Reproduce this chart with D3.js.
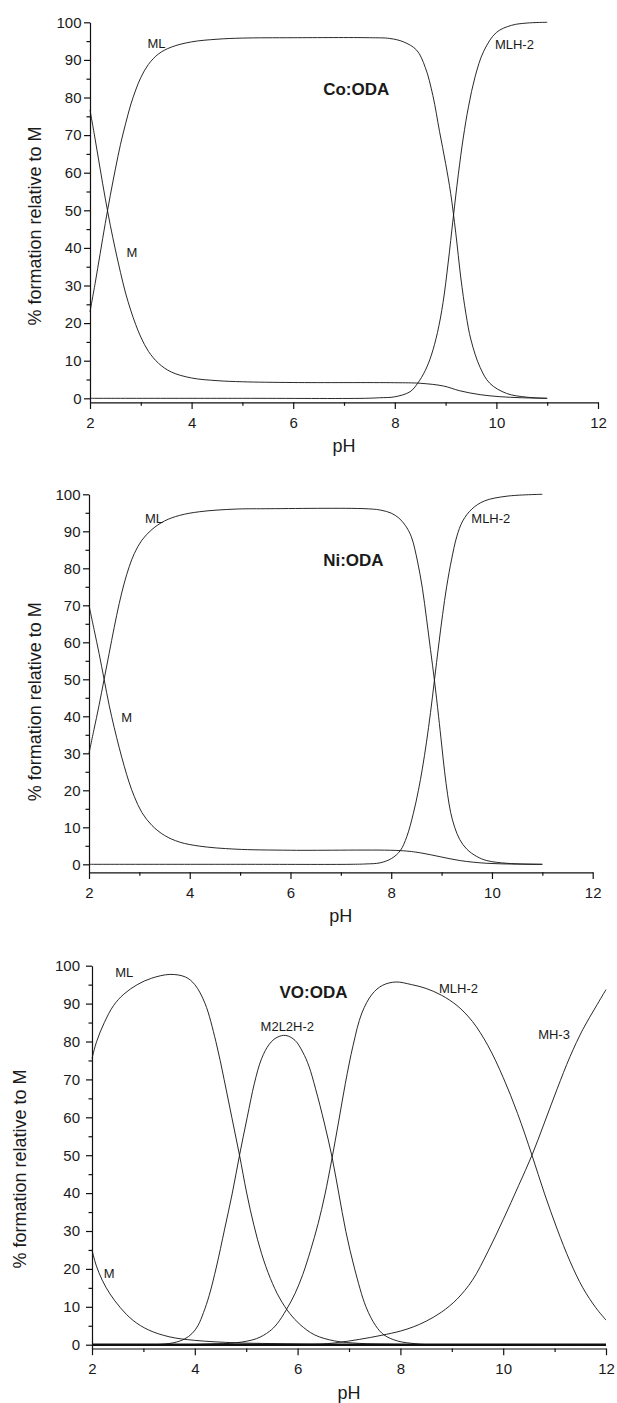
<!DOCTYPE html>
<html>
<head>
<meta charset="utf-8">
<script src="https://cdn.jsdelivr.net/npm/d3@7"></script>
<style>
  html, body { margin: 0; padding: 0; background: #fff; }
  svg { display: block; }
  text { font-family: "Liberation Sans", Arial, Helvetica, sans-serif; fill: #1a1a1a; }
</style>
</head>
<body>
<div id="chart"></div>
<script>
// [pH, % formation] pairs

// Co:ODA
const coM = [[2, 76.7], [2.1, 69], [2.2, 61], [2.3, 53.2], [2.4, 46], [2.5, 39.5], [2.6, 33.5], [2.7, 28],
  [2.8, 23.5], [2.9, 19.6], [3.0, 16.3], [3.15, 12.5], [3.35, 9.3], [3.6, 7], [4.0, 5.4], [4.5, 4.7], [5, 4.4],
  [6, 4.2], [8, 4.15], [8.5, 4.0], [8.96, 3.27], [9.28, 2.0], [9.68, 0.97], [10.07, 0.43], [10.5, 0.15], [11, 0]];
const coML = [[2, 23], [2.1, 30.5], [2.2, 38.5], [2.3, 46.5], [2.4, 54], [2.5, 61], [2.6, 67.5], [2.7, 73],
  [2.8, 78], [2.9, 82], [3.0, 85.3], [3.15, 88.8], [3.35, 91.6], [3.6, 93.4], [4.0, 94.8], [4.5, 95.5], [5, 95.8],
  [6, 95.9], [7.5, 95.9], [7.9, 95.7], [8.17, 94.8], [8.43, 92.6], [8.6, 88], [8.75, 80.5], [8.88, 71], [9.0, 62.5],
  [9.1, 54.5], [9.2, 44], [9.3, 32], [9.4, 22.5], [9.5, 15.5], [9.68, 8.2], [9.87, 4], [10.2, 1.3], [10.6, 0.3],
  [11, 0]];
const coMLH2 = [[2, 0], [5, 0], [7.4, 0], [7.7, 0.15], [8, 0.4], [8.3, 1.75], [8.45, 4], [8.6, 7.4], [8.72, 11.5],
  [8.84, 17.5], [8.95, 25.5], [9.05, 36], [9.15, 48], [9.25, 59.5], [9.35, 69.5], [9.45, 77.5], [9.58, 85.5],
  [9.75, 92.3], [10, 97.3], [10.3, 99.2], [10.6, 99.8], [11, 100]];

// Ni:ODA
const niM = [[2, 70], [2.1, 63.5], [2.2, 57], [2.3, 50], [2.4, 43], [2.5, 37], [2.6, 31.5], [2.7, 26.5], [2.8, 22],
  [2.9, 18.3], [3.05, 14], [3.25, 10.5], [3.5, 7.8], [3.8, 6], [4.2, 4.9], [4.9, 4.1], [6, 3.8], [8.18, 3.7],
  [8.58, 3.1], [8.97, 2.05], [9.37, 1.0], [9.9, 0.27], [10.5, 0.05], [11, 0]];
const niML = [[2, 30], [2.1, 36.5], [2.2, 43], [2.3, 50], [2.4, 57], [2.5, 64], [2.6, 70.5], [2.7, 76], [2.8, 80.5],
  [2.9, 84], [3.05, 87.6], [3.25, 90.5], [3.5, 92.8], [3.8, 94.3], [4.2, 95.3], [4.9, 96], [5.5, 96.1], [7.5, 96.1],
  [7.8, 95.7], [8.0, 94.9], [8.15, 93.6], [8.28, 91.6], [8.4, 88.5], [8.52, 82], [8.62, 74.5], [8.7, 66.5],
  [8.78, 58], [8.86, 49.5], [8.94, 40], [9.0, 32.5], [9.06, 25], [9.12, 18.8], [9.18, 14], [9.26, 10], [9.36, 6.7],
  [9.5, 4.1], [9.7, 2.1], [9.9, 1], [10.3, 0.27], [11, 0]];
const niMLH2 = [[2, 0], [5, 0], [7.2, 0], [7.5, 0.1], [7.78, 0.4], [8.01, 1.6], [8.18, 3.7], [8.31, 7.5], [8.44, 13.8],
  [8.54, 20], [8.62, 26], [8.7, 33], [8.78, 41], [8.86, 50], [8.94, 59], [9.02, 67.5], [9.1, 75], [9.2, 82.5],
  [9.3, 88.5], [9.42, 92.8], [9.6, 96], [9.85, 98.2], [10.3, 99.5], [11, 100]];

// VO:ODA
const voM = [[2, 25], [2.08, 21], [2.2, 17], [2.35, 13.4], [2.55, 9.8], [2.8, 6.4], [3.1, 3.9], [3.5, 2.1],
  [4.0, 1.15], [4.8, 0.5], [5.5, 0.3], [6.5, 0.1], [7.5, 0], [12, 0]];
const voML = [[2, 75.5], [2.09, 80], [2.24, 85], [2.42, 89.5], [2.62, 92.5], [2.88, 95], [3.16, 96.7], [3.52, 97.7],
  [3.82, 97], [4.0, 95], [4.2, 90], [4.41, 80], [4.57, 70], [4.72, 60], [4.87, 50], [5.01, 40], [5.15, 31.5],
  [5.3, 24], [5.47, 17.5], [5.65, 12.3], [5.85, 8.2], [6.05, 5.3], [6.33, 2.6], [6.72, 1], [7.2, 0.35], [7.9, 0.1],
  [8.5, 0], [12, 0]];
const voM2L2H2 = [[2, 0], [3.2, 0], [3.58, 0.5], [3.8, 1.5], [3.95, 3], [4.06, 5], [4.17, 8.5], [4.28, 13],
  [4.42, 20.5], [4.58, 30.5], [4.73, 40], [4.87, 50], [5.02, 60], [5.16, 69], [5.3, 75.5], [5.45, 79.3], [5.6, 81.1],
  [5.77, 81.6], [5.95, 80.3], [6.1, 77.2], [6.22, 73.5], [6.35, 67.5], [6.52, 58.5], [6.67, 49.5], [6.8, 40],
  [6.94, 29.8], [7.11, 20], [7.33, 10], [7.52, 5], [7.68, 2.6], [7.94, 1], [8.3, 0.25], [8.6, 0], [12, 0]];
const voMLH2 = [[2, 0], [3.8, 0], [4.3, 0.2], [4.8, 0.5], [5.2, 1.6], [5.45, 3.5], [5.6, 5.5], [5.78, 9.2],
  [5.95, 13.5], [6.1, 18.5], [6.25, 24.8], [6.4, 32], [6.53, 39.5], [6.66, 48.5], [6.8, 59], [6.93, 69], [7.08, 79],
  [7.25, 87.5], [7.45, 92.5], [7.65, 94.8], [7.91, 95.7], [8.22, 95], [8.5, 94], [8.8, 92.2], [9.1, 89.5],
  [9.4, 85.3], [9.7, 79], [10.0, 70.5], [10.28, 61], [10.56, 50], [10.8, 40], [11.05, 30.5], [11.3, 22],
  [11.55, 15], [11.8, 9.8], [12, 6.5]];
const voMH3 = [[2, 0], [6, 0], [6.5, 0.2], [6.8, 0.6], [7.2, 1.4], [7.64, 2.5], [8.0, 3.6], [8.25, 4.7], [8.5, 6.2],
  [8.8, 8.6], [9.1, 12], [9.4, 17], [9.7, 24.5], [10.0, 33], [10.3, 42], [10.56, 50], [10.8, 58.5], [11.05, 67.5],
  [11.3, 76], [11.55, 83.2], [11.8, 89.1], [12, 93.7]];
const voRest = [[2, 0], [12, 0]];

const xMajor = [2, 4, 6, 8, 10, 12];
const xMinor = [3, 5, 7, 9, 11];
const yMajor = [0, 10, 20, 30, 40, 50, 60, 70, 80, 90, 100];
const yMinor = [5, 15, 25, 35, 45, 55, 65, 75, 85, 95];

const FONT = '"Liberation Sans", Arial, Helvetica, sans-serif';

// layout: pixel box of each plot, label anchors in data units
const panels = [
  {
    title: 'Co:ODA', titleAt: [7.24, 80.7],
    series: [coM, coML, coMLH2],
    labels: [['ML', 3.13, 93.2], ['M', 2.72, 37.7], ['MLH-2', 9.97, 92.8]],
    l: 90, r: 598, t: 22.3, b: 402.3, yMin: -1.06, yPad: 2.5, yLabelX: 40.5, yLabelY: 226,
  },
  {
    title: 'Ni:ODA', titleAt: [7.25, 80.6],
    series: [niM, niML, niMLH2],
    labels: [['ML', 3.11, 92.3], ['M', 2.64, 38.5], ['MLH-2', 9.59, 92.2]],
    l: 89, r: 592.7, t: 494.3, b: 872.3, yMin: -2.16, yPad: 2.5, yLabelX: 40.5, yLabelY: 701.7,
  },
  {
    title: 'VO:ODA', titleAt: [6.31, 91.4],
    series: [voM, voML, voM2L2H2, voMLH2, voMH3],
    thick: voRest,
    labels: [['ML', 2.45, 96.9], ['M', 2.23, 17.7], ['M2L2H-2', 5.28, 82.8], ['MLH-2', 8.75, 92.7], ['MH-3', 10.68, 80.6]],
    l: 92, r: 606, t: 965.7, b: 1348.5, yMin: -1.0, yPad: 6, yLabelX: 25.5, yLabelY: 1169,
  },
];

const svg = d3.select('#chart').append('svg').attr('width', 617).attr('height', 1403);

function styleAxis(g) {
  g.attr('font-size', 15).attr('font-family', FONT).attr('color', '#111');
  g.selectAll('path, line').attr('stroke-width', 1.2);
}

function renderPanel(p) {
  const g = svg.append('g');
  const x = d3.scaleLinear().domain([2, 12]).range([p.l, p.r]);
  const y = d3.scaleLinear().domain([p.yMin, 100]).range([p.b, p.t]);
  const line = d3
    .line()
    .x((d) => x(d[0]))
    .y((d) => y(d[1]))
    .curve(d3.curveCatmullRom.alpha(0.5));

  if (p.thick) {
    g.append('path').datum(p.thick).attr('fill', 'none').attr('stroke', '#111').attr('stroke-width', 2.4).attr('d', line);
  }

  g.append('g')
    .selectAll('path')
    .data(p.series)
    .join('path')
    .attr('fill', 'none')
    .attr('stroke', '#111')
    .attr('stroke-width', 0.9)
    .attr('d', line);

  // y axis
  g.append('g')
    .attr('transform', `translate(${p.l},0)`)
    .call(d3.axisLeft(y).tickValues(yMajor).tickSize(6).tickSizeOuter(0).tickPadding(p.yPad))
    .call(styleAxis);
  g.append('g')
    .attr('transform', `translate(${p.l},0)`)
    .call(d3.axisLeft(y).tickValues(yMinor).tickSize(3.5).tickFormat(''))
    .call(styleAxis)
    .call((a) => a.select('.domain').remove());

  // x axis
  g.append('g')
    .attr('transform', `translate(0,${p.b})`)
    .call(d3.axisBottom(x).tickValues(xMajor).tickSize(6.7).tickSizeOuter(0).tickPadding(8))
    .call(styleAxis);
  g.append('g')
    .attr('transform', `translate(0,${p.b})`)
    .call(d3.axisBottom(x).tickValues(xMinor).tickSize(3.5).tickFormat(''))
    .call(styleAxis)
    .call((a) => a.select('.domain').remove());

  // axis titles
  g.append('text')
    .attr('x', (p.l + p.r) / 2)
    .attr('y', p.b + 50)
    .attr('text-anchor', 'middle')
    .attr('font-size', 18)
    .text('pH');
  g.append('text')
    .attr('transform', `translate(${p.yLabelX},${p.yLabelY}) rotate(-90)`)
    .attr('text-anchor', 'middle')
    .attr('font-size', 18)
    .text('% formation relative to M');

  // species labels and panel title
  g.append('g')
    .selectAll('text')
    .data(p.labels)
    .join('text')
    .attr('x', (d) => x(d[1]))
    .attr('y', (d) => y(d[2]))
    .attr('font-size', 13)
    .text((d) => d[0]);

  g.append('text')
    .attr('x', x(p.titleAt[0]))
    .attr('y', y(p.titleAt[1]))
    .attr('text-anchor', 'middle')
    .attr('font-size', 17)
    .attr('font-weight', 'bold')
    .text(p.title);
}

panels.forEach(renderPanel);
</script>
</body>
</html>
